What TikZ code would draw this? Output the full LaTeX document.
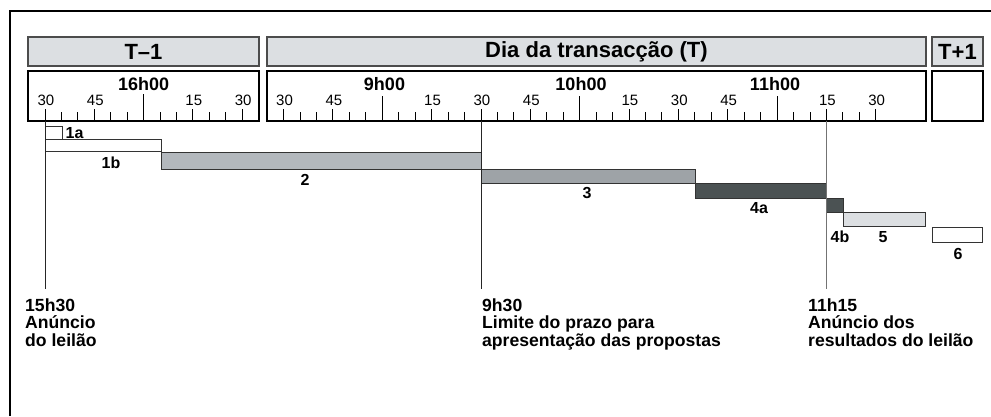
\documentclass[tikz,border=0pt]{standalone}
\usepackage{fontspec}
\setmainfont{Liberation Sans}
\definecolor{hdrfill}{HTML}{DCDFE2}
\definecolor{bartwo}{HTML}{B3B8BD}
\definecolor{barthree}{HTML}{9EA3A7}
\definecolor{barfour}{HTML}{4B5253}
\definecolor{barfive}{HTML}{DCDFE2}
\begin{document}
\begin{tikzpicture}[x=1pt,y=-1pt,
  hdr/.style={draw=black!70,line width=1.3pt,fill=hdrfill},
  scalebox/.style={draw=black,line width=1.6pt},
  bar/.style={draw=black!80,line width=0.8pt},
  hdrtext/.style={font=\fontsize{22}{26}\selectfont\bfseries,inner sep=0},
  hourtext/.style={font=\fontsize{18}{21}\selectfont\bfseries,inner sep=0},
  numtext/.style={font=\fontsize{15}{17}\selectfont,inner sep=0},
  bartext/.style={font=\fontsize{16}{18}\selectfont\bfseries,inner sep=0},
  evtext/.style={font=\fontsize{17.6}{20}\selectfont\bfseries,anchor=base west,inner sep=0},
  tickline/.style={line width=0.8pt},
  markline/.style={line width=1pt}]
\useasboundingbox (0,0) rectangle (991,416);
\draw[line width=1.3pt] (10,416) -- (10,11) -- (991,11);
% headers
\draw[hdr] (28,37) rectangle (259,66);
\node[hdrtext] (hA) at (143.5,52) {T–1};
\draw[hdr] (267,37) rectangle (926,66);
\node[hdrtext] (hB) at (596.5,52) {Dia da transacção (T)};
\draw[hdr] (932,37) rectangle (983,66);
\node[hdrtext] (hC) at (957.5,52) {T+1};
% scale boxes
\draw[scalebox] (28,71) rectangle (259,121);
\draw[scalebox] (267,71) rectangle (926,121);
\draw[scalebox] (932,71) rectangle (983,121);
% ticks T-1
\foreach \m in {0,5,...,60}{
  \pgfmathsetmacro\xx{45+\m*3.285}
  \pgfmathsetmacro\len{ifthenelse(\m==30,27,ifthenelse(mod(\m,15)==0,12,9.5))}
  \draw[tickline] (\xx,121) -- ++(0,-\len);
}
\foreach \m/\t in {0/30,15/45,45/15,60/30}{
  \node[numtext] (nA\m) at ({45+\m*3.285+1},100) {\t};
}
\node[hourtext] (hrA) at (143.6,84) {16h00};
% ticks day
\foreach \m in {0,5,...,180}{
  \pgfmathsetmacro\xx{283.5+\m*3.29}
  \pgfmathsetmacro\len{ifthenelse(mod(\m,60)==30,25,ifthenelse(mod(\m,15)==0,12,9.5))}
  \draw[tickline] (\xx,121) -- ++(0,-\len);
}
\foreach \m/\t in {0/30,15/45,45/15,60/30,75/45,105/15,120/30,135/45,165/15,180/30}{
  \node[numtext] (nB\m) at ({283.5+\m*3.29+1},100) {\t};
}
\node[hourtext] (hrB) at (384.5,84) {9h00};
\node[hourtext] (hrC) at (581,84) {10h00};
\node[hourtext] (hrD) at (775,84) {11h00};
% bars
\draw[bar,fill=white] (45,126) rectangle (62,139);
\node[bartext,anchor=west] (l1a) at (65.5,133) {1a};
\draw[bar,fill=white] (45,139) rectangle (161,151);
\node[bartext] (l1b) at (111,163) {1b};
\draw[bar,fill=bartwo] (161,152) rectangle (481,169);
\node[bartext] (l2) at (305,180) {2};
\draw[bar,fill=barthree] (481,169) rectangle (695,183);
\node[bartext] (l3) at (587,193) {3};
\draw[bar,fill=barfour] (695,183) rectangle (826,198);
\node[bartext] (l4a) at (759,208) {4a};
\draw[bar,fill=barfour] (826,198) rectangle (843,212);
\node[bartext] (l4b) at (840,237) {4b};
\draw[bar,fill=barfive] (843,212) rectangle (925,226);
\node[bartext] (l5) at (883,237) {5};
\draw[bar,fill=white] (932,227) rectangle (982,242);
\node[bartext] (l6) at (958,254) {6};
% marker lines
\coordinate (mAt) at (45,121);   \coordinate (mAb) at (45,289);
\coordinate (mBt) at (481,121);  \coordinate (mBb) at (481,289);
\coordinate (mCt) at (826,121);  \coordinate (mCb) at (826,289);
\draw[markline,black!85] (mAt) -- (mAb);
\draw[markline,black!85] (mBt) -- (mBb);
\draw[markline,black!55] (mCt) -- (mCb);
% event texts
\node[evtext] (eA1) at (25,311) {15h30};
\node[evtext] (eA2) at (25,328.5) {Anúncio};
\node[evtext] (eA3) at (25,346) {do leilão};
\node[evtext] (eB1) at (482,311) {9h30};
\node[evtext] (eB2) at (482,328.5) {Limite do prazo para};
\node[evtext] (eB3) at (482,346) {apresentação das propostas};
\node[evtext] (eC1) at (808,311) {11h15};
\node[evtext] (eC2) at (808,328.5) {Anúncio dos};
\node[evtext] (eC3) at (808,346) {resultados do leilão};
\end{tikzpicture}
\end{document}
